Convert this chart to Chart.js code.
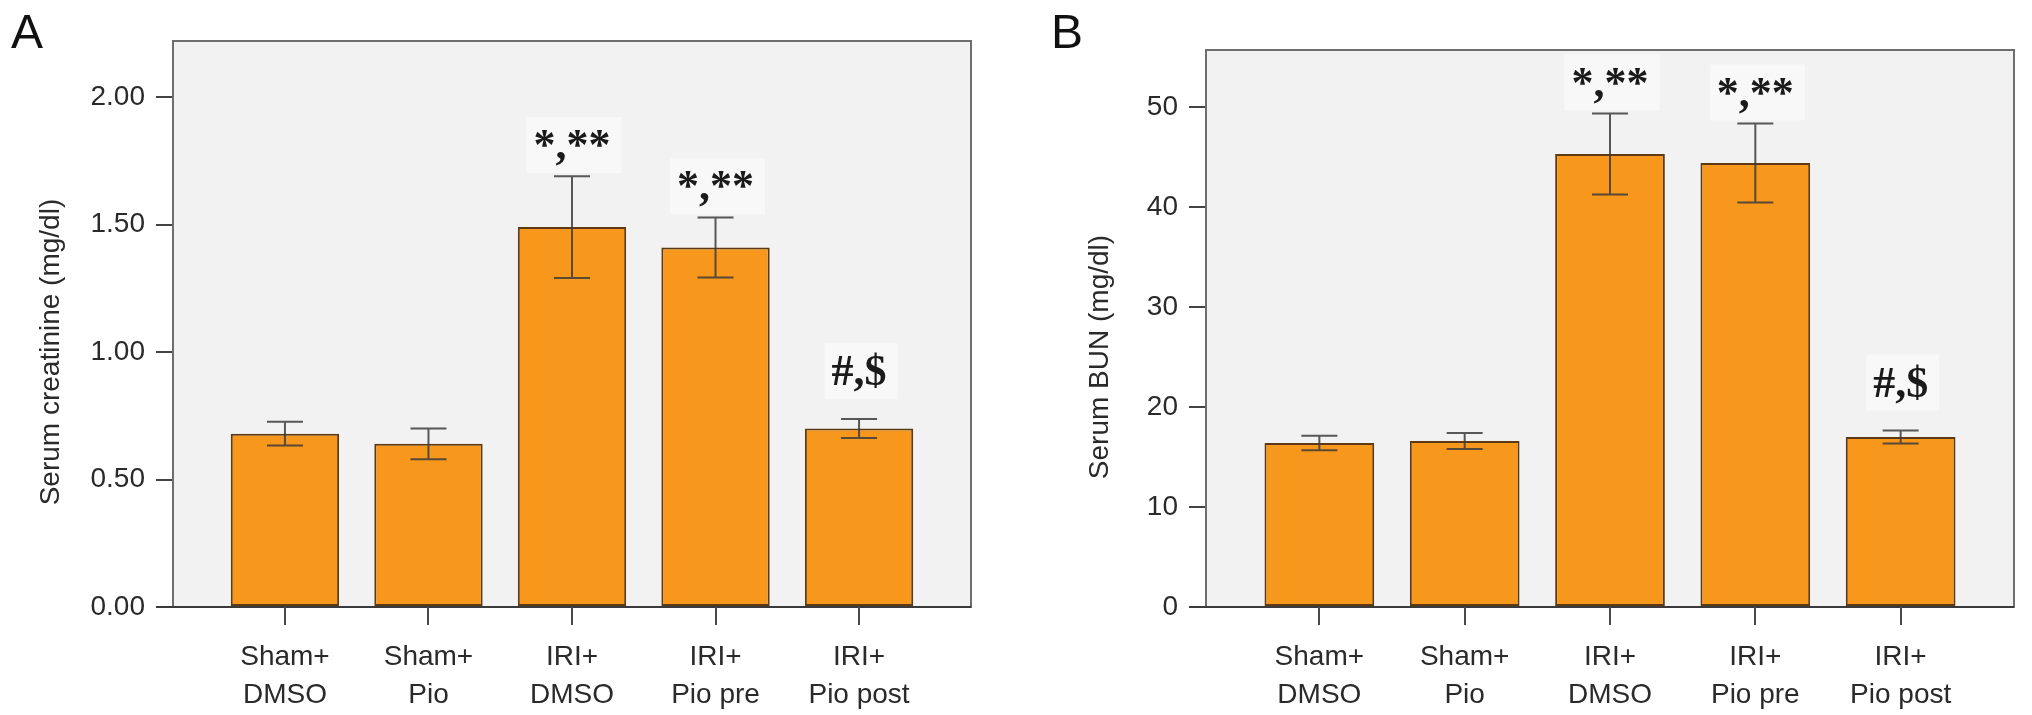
<!DOCTYPE html>
<html>
<head>
<meta charset="utf-8">
<script src="https://cdn.jsdelivr.net/npm/chart.js@4.4.1/dist/chart.umd.min.js"></script>
<style>
  html, body { margin: 0; padding: 0; background: #fff; }
  .panel { position: absolute; top: 0; width: 1016px; height: 715px; }
  #pA { left: 0; }
  #pB { left: 1016px; }
</style>
</head>
<body>
<div class="panel" id="pA"><canvas id="chartA"></canvas></div>
<div class="panel" id="pB"><canvas id="chartB"></canvas></div>
<script>
/* ---------- Daten ---------- */
const categories = [['Sham+', 'DMSO'], ['Sham+', 'Pio'], ['IRI+', 'DMSO'], ['IRI+', 'Pio pre'], ['IRI+', 'Pio post']];
const creatMean = [0.68, 0.64, 1.49, 1.41, 0.70];
const creatErr  = [0.047, 0.06, 0.20, 0.118, 0.037];
const bunMean   = [16.4, 16.6, 45.3, 44.4, 17.0];
const bunErr    = [0.72, 0.8, 4.05, 3.95, 0.65];
const marks     = ['', '', '*,**', '*,**', '#,$'];
const creatTicks = [0, 0.5, 1, 1.5, 2];
const bunTicks   = [0, 10, 20, 30, 40, 50];

const SANS = '"Liberation Sans", Arial, Helvetica, sans-serif';
const SERIF = '"Liberation Serif", "Times New Roman", serif';

// Hintergrund + Rahmen, Fehlerbalken, Signifikanz-Marker, Achsentitel, Panel-Buchstabe
const decor = {
  id: 'decor',
  beforeDatasetsDraw(c) {
    const a = c.chartArea, ctx = c.ctx;
    ctx.save();
    ctx.fillStyle = '#f2f2f2';
    ctx.fillRect(a.left, a.top, a.right - a.left, a.bottom - a.top);
    ctx.restore();
  },
  afterDatasetsDraw(c) {
    const o = c.options.plugins.decor;
    const { ctx, chartArea: a } = c;
    const y = c.scales.y;
    const meta = c.getDatasetMeta(0);
    ctx.save();
    // Rahmen
    ctx.strokeStyle = '#6e6e6e'; ctx.lineWidth = 2;
    ctx.strokeRect(a.left, a.top, a.right - a.left, a.bottom - a.top);
    ctx.strokeStyle = '#3a3a3a';
    ctx.beginPath(); ctx.moveTo(a.left - 17, a.bottom); ctx.lineTo(a.right, a.bottom); ctx.stroke();
    // Tickstriche der x-Achse an den Balkenmitten
    ctx.strokeStyle = '#4a4a4a'; ctx.lineWidth = 2;
    meta.data.forEach(bar => {
      const px = Math.round(bar.x);
      ctx.beginPath(); ctx.moveTo(px, a.bottom); ctx.lineTo(px, a.bottom + 18); ctx.stroke();
    });
    // Fehlerbalken
    ctx.strokeStyle = 'rgba(60,60,60,0.85)'; ctx.lineWidth = 2;
    meta.data.forEach((bar, i) => {
      const top = y.getPixelForValue(o.mean[i] + o.err[i]);
      const bot = y.getPixelForValue(o.mean[i] - o.err[i]);
      ctx.beginPath();
      ctx.moveTo(bar.x, top); ctx.lineTo(bar.x, bot);
      ctx.moveTo(bar.x - 18, top); ctx.lineTo(bar.x + 18, top);
      ctx.moveTo(bar.x - 18, bot); ctx.lineTo(bar.x + 18, bot);
      ctx.stroke();
    });
    // Marker
    ctx.font = 'bold 44px ' + SERIF;
    ctx.textAlign = 'center'; ctx.textBaseline = 'alphabetic';
    meta.data.forEach((bar, i) => {
      const m = marks[i];
      if (!m) return;
      const top = y.getPixelForValue(o.mean[i] + o.err[i]);
      const base = top - (m.startsWith('#') ? 34 : 17);
      const w = ctx.measureText(m).width;
      ctx.fillStyle = '#f8f8f8';
      ctx.fillRect(bar.x - w / 2 - 7, base - 42, w + 18, 56);
      ctx.fillStyle = '#1a1a1a';
      ctx.fillText(m, bar.x, base);
    });
    ctx.restore();
  },
  afterDraw(c) {
    const o = c.options.plugins.decor;
    const ctx = c.ctx, y = c.scales.y;
    ctx.save();
    // Achsentitel, zentriert auf den Tick-Bereich
    const cy = (y.getPixelForValue(o.ticks[0]) + y.getPixelForValue(o.ticks[o.ticks.length - 1])) / 2;
    ctx.translate(o.titleX, cy); ctx.rotate(-Math.PI / 2);
    ctx.font = '28px ' + SANS; ctx.fillStyle = '#2a2a2a';
    ctx.textAlign = 'center'; ctx.textBaseline = 'middle';
    ctx.fillText(o.title, 0, 0);
    ctx.restore();
    ctx.save();
    ctx.font = '48px ' + SANS; ctx.fillStyle = '#111';
    ctx.textBaseline = 'alphabetic';
    ctx.fillText(o.letter, o.letterX, 48);
    ctx.restore();
  },
};

function makePanel(id, p) {
  const data = p.mean.map((v, i) => ({ x: i, y: v }));
  return new Chart(document.getElementById(id), {
    type: 'bar',
    data: { datasets: [{
      data,
      backgroundColor: '#f7981d',
      borderColor: '#5e3a14',
      borderWidth: 2,
      borderSkipped: false,
      categoryPercentage: 1,
      barPercentage: 0.755,
    }] },
    options: {
      responsive: true, maintainAspectRatio: false, animation: false,
      layout: { padding: { left: 0, top: p.top, right: p.right, bottom: 0 } },
      plugins: {
        legend: { display: false }, tooltip: { enabled: false },
        decor: { mean: p.mean, err: p.err, ticks: p.ticks, title: p.title, titleX: p.titleX, letter: p.letter, letterX: p.letterX },
      },
      scales: {
        x: {
          type: 'linear', min: -0.78, max: 4.78, offset: false,
          afterBuildTicks: s => { s.ticks = categories.map((_, i) => ({ value: i })); },
          afterFit: s => { s.height = 108; },
          grid: { display: false, offset: false },
          border: { display: false },
          ticks: {
            padding: 23, maxRotation: 0, autoSkip: false, color: '#2a2a2a',
            font: { family: SANS, size: 28, lineHeight: 1.36 },
            callback: v => categories[v],
          },
        },
        y: {
          min: 0, max: p.max,
          afterBuildTicks: s => { s.ticks = p.ticks.map(v => ({ value: v })); },
          afterFit: s => { s.width = p.axisW; },
          grid: { drawOnChartArea: false, drawTicks: true, tickLength: 17, color: '#444', lineWidth: 2 },
          border: { display: false },
          ticks: {
            padding: 11, color: '#2a2a2a',
            font: { family: SANS, size: 28 },
            callback: v => p.fmt(v),
          },
        },
      },
    },
    plugins: [decor],
  });
}

makePanel('chartA', {
  mean: creatMean, err: creatErr, ticks: creatTicks, max: 2.22,
  top: 41, right: 45, axisW: 173, titleX: 51,
  title: 'Serum creatinine (mg/dl)', letter: 'A', letterX: 11,
  fmt: v => v.toFixed(2),
});
makePanel('chartB', {
  mean: bunMean, err: bunErr, ticks: bunTicks, max: 55.7,
  top: 50, right: 18, axisW: 190, titleX: 84,
  title: 'Serum BUN (mg/dl)', letter: 'B', letterX: 35,
  fmt: v => String(v),
});
</script>
</body>
</html>
